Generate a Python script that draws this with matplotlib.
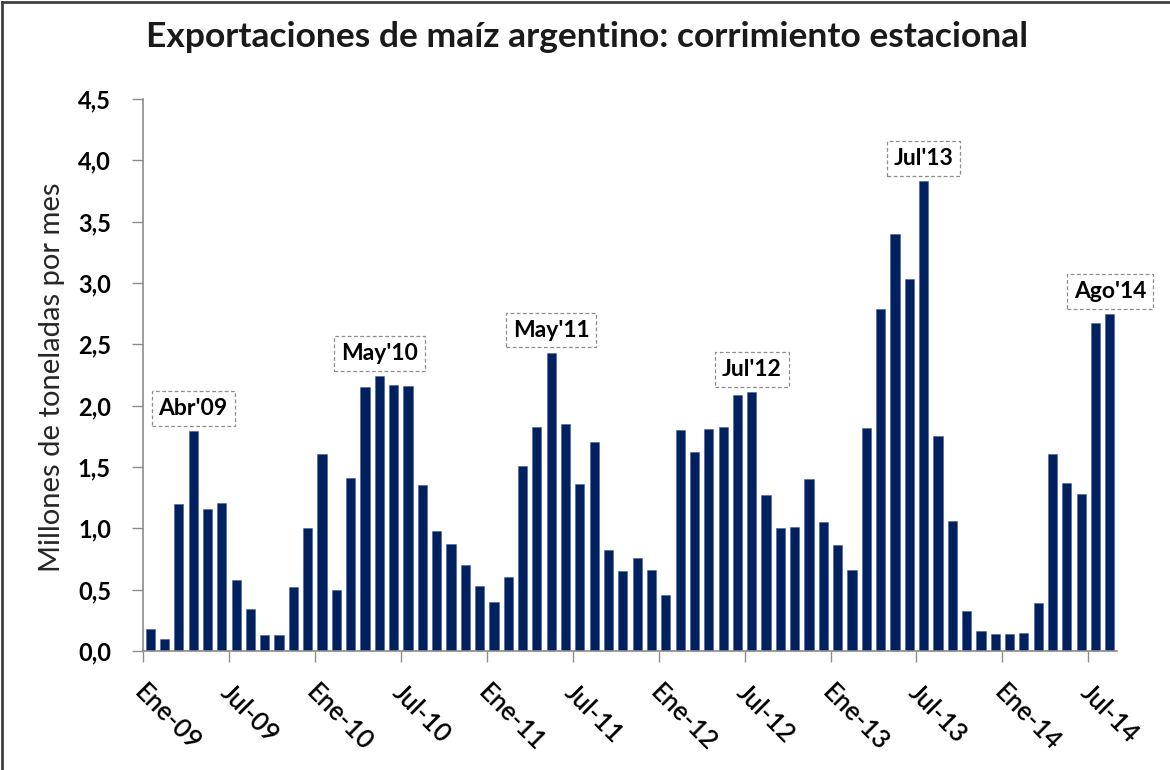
import matplotlib
matplotlib.use("Agg")
import matplotlib.pyplot as plt
from matplotlib.ticker import FuncFormatter, FixedLocator
from matplotlib.lines import Line2D
from matplotlib.transforms import ScaledTranslation

plt.rcParams['font.family'] = ['Lato', 'DejaVu Sans']

# ---- data (millones de toneladas por mes), Ene-09 .. Ago-14 ----
values_2009 = [0.18, 0.10, 1.20, 1.79, 1.16, 1.21, 0.58, 0.345, 0.13, 0.13, 0.52, 1.00]
values_2010 = [1.605, 0.50, 1.41, 2.15, 2.24, 2.17, 2.16, 1.355, 0.98, 0.875, 0.70, 0.53]
values_2011 = [0.40, 0.605, 1.51, 1.83, 2.43, 1.85, 1.36, 1.70, 0.82, 0.655, 0.755, 0.66]
values_2012 = [0.46, 1.80, 1.62, 1.81, 1.83, 2.09, 2.11, 1.27, 1.00, 1.01, 1.40, 1.05]
values_2013 = [0.867, 0.66, 1.82, 2.79, 3.40, 3.03, 3.83, 1.75, 1.06, 0.33, 0.16, 0.135]
values_2014 = [0.135, 0.146, 0.39, 1.61, 1.37, 1.28, 2.67, 2.745]
values = values_2009 + values_2010 + values_2011 + values_2012 + values_2013 + values_2014

tick_labels = ["Ene-09", "Jul-09", "Ene-10", "Jul-10", "Ene-11", "Jul-11",
               "Ene-12", "Jul-12", "Ene-13", "Jul-13", "Ene-14", "Jul-14"]
tick_every = 6

annot_idx = [3, 16, 28, 42, 54, 67]
annot_text = ["Abr'09", "May'10", "May'11", "Jul'12", "Jul'13", "Ago'14"]

y_ticks = [0.0, 0.5, 1.0, 1.5, 2.0, 2.5, 3.0, 3.5, 4.0, 4.5]

title = "Exportaciones de maíz argentino: corrimiento estacional"
ylabel = "Millones de toneladas por mes"

# ---- figure ----
W, H = 1170, 770
fig = plt.figure(figsize=(W / 100, H / 100), dpi=100)
ax = fig.add_axes([143 / W, 1 - 651 / H, (1117 - 143) / W, (651 - 99) / H])

x = list(range(len(values)))
ax.bar(x, values, width=0.64, color="#002060", edgecolor="#4a5f8f", linewidth=0.4)

ax.set_xlim(-0.5, len(values) - 0.5)
ax.set_ylim(0, 4.5)

ax.set_yticks(y_ticks)
ax.yaxis.set_major_formatter(FuncFormatter(lambda v, p: f"{v:.1f}".replace(".", ",")))
for lab in ax.get_yticklabels():
    lab.set_fontweight("bold")
ax.tick_params(axis="y", labelsize=17, length=8, width=1, color="#8c8c8c", pad=15,
               direction="out")

xt = [i - 0.5 for i in range(0, len(values), tick_every)]
ax.xaxis.set_major_locator(FixedLocator(xt))
ax.set_xticklabels(tick_labels, rotation=-45, ha="left", va="top",
                   rotation_mode="anchor", fontsize=18.5, fontweight="semibold")
ax.tick_params(axis="x", length=8, width=1, color="#8c8c8c", pad=13, direction="out")
shift = ScaledTranslation(4 / 100, 0, fig.dpi_scale_trans)
for lab in ax.get_xticklabels():
    lab.set_transform(lab.get_transform() + shift)

for s in ["top", "right"]:
    ax.spines[s].set_visible(False)
for s in ["left", "bottom"]:
    ax.spines[s].set_color("#8c8c8c")
    ax.spines[s].set_linewidth(1.2)

for i, t in zip(annot_idx, annot_text):
    ax.annotate(t, xy=(i, values[i]), xytext=(0, 16.5), textcoords="offset points",
                ha="center", va="center", fontsize=16.5, fontweight="bold",
                annotation_clip=False,
                bbox=dict(boxstyle="square,pad=0.3", facecolor="white",
                          edgecolor="#8c8c8c", linewidth=0.9, linestyle=(0, (3, 2))))

fig.text(587 / W, 1 - 47 / H, title, ha="center", va="baseline",
         fontsize=25.5, fontweight="bold", color="#1a1a1a")
fig.text(52 / W, 1 - 377 / H, ylabel, ha="center", va="center", rotation=90,
         fontsize=21, color="#262626")

# frame lines (left and top)
fig.add_artist(Line2D([2 / W, 2 / W], [0, 1 - 2 / H], transform=fig.transFigure,
                      color="#404040", linewidth=2))
fig.add_artist(Line2D([2 / W, 1], [1 - 2 / H, 1 - 2 / H], transform=fig.transFigure,
                      color="#404040", linewidth=2))

fig.savefig("out.png", dpi=100)
